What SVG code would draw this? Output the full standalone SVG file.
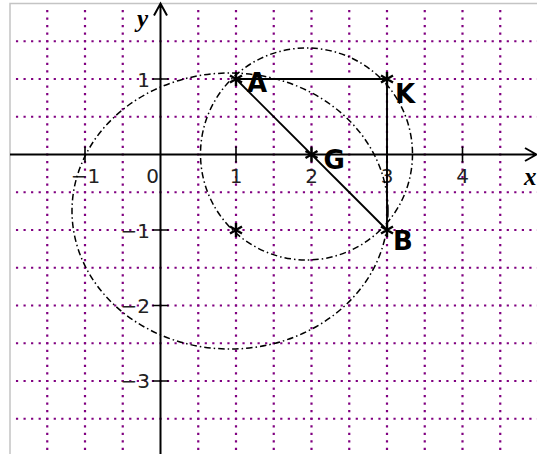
<svg xmlns="http://www.w3.org/2000/svg" width="537" height="454" viewBox="0 0 537 454">
<style>
.grid line{stroke:#800080;stroke-width:2.2;stroke-dasharray:2.2 5.35}
.frame{stroke:#c4c4c4;stroke-width:1.5;fill:none}
.axis{stroke:#000;stroke-width:2;fill:none}
.tick{stroke:#000;stroke-width:1.6}
.num{font-family:"DejaVu Sans",sans-serif;font-size:20px;fill:#222}
.numx{text-anchor:middle}
.numy{text-anchor:end}
.var{font-family:"Liberation Serif",serif;font-style:italic;font-weight:bold;font-size:25px;fill:#000}
.curve{fill:none;stroke:#000;stroke-width:1.5;stroke-dasharray:6.5 3 1.5 3}
.seg{stroke:#000;stroke-width:1.9;fill:none}
.star{stroke:#000;stroke-width:2.4;fill:none}
.lbl{font-family:"DejaVu Sans",sans-serif;font-weight:bold;font-size:26px;fill:#000}
</style>
<defs>
<path id="ast" class="star" d="M0,-7V7M-6,-3.5L6,3.5M-6,3.5L6,-3.5"/>
</defs>
<rect width="537" height="454" fill="#fff"/>
<g class="grid">
<line x1="15.95" y1="41.25" x2="537" y2="41.25"/>
<line x1="15.95" y1="79" x2="537" y2="79"/>
<line x1="15.95" y1="116.75" x2="537" y2="116.75"/>
<line x1="15.95" y1="192.25" x2="537" y2="192.25"/>
<line x1="15.95" y1="230" x2="537" y2="230"/>
<line x1="15.95" y1="267.75" x2="537" y2="267.75"/>
<line x1="15.95" y1="305.5" x2="537" y2="305.5"/>
<line x1="15.95" y1="343.25" x2="537" y2="343.25"/>
<line x1="15.95" y1="381" x2="537" y2="381"/>
<line x1="15.95" y1="418.75" x2="537" y2="418.75"/>
<line x1="47.25" y1="9.95" x2="47.25" y2="454"/>
<line x1="85" y1="9.95" x2="85" y2="454"/>
<line x1="122.75" y1="9.95" x2="122.75" y2="454"/>
<line x1="198.25" y1="9.95" x2="198.25" y2="454"/>
<line x1="236" y1="9.95" x2="236" y2="454"/>
<line x1="273.75" y1="9.95" x2="273.75" y2="454"/>
<line x1="311.5" y1="9.95" x2="311.5" y2="454"/>
<line x1="349.25" y1="9.95" x2="349.25" y2="454"/>
<line x1="387" y1="9.95" x2="387" y2="454"/>
<line x1="424.75" y1="9.95" x2="424.75" y2="454"/>
<line x1="462.5" y1="9.95" x2="462.5" y2="454"/>
<line x1="500.25" y1="9.95" x2="500.25" y2="454"/>
</g>
<path class="frame" d="M10,454V3.5H537"/>
<g id="axes">
<path class="axis" d="M10,154.5H536M525,148L536.5,154.5L525,161"/>
<path class="axis" d="M160.5,454V3.5M154,15.5L160.5,3.5L167,15.5"/>
<path class="tick" d="M85,146.5V162.5M236,146.5V162.5M311.5,146.5V162.5M387,146.5V162.5M462.5,146.5V162.5M152.5,79H168.5M152.5,230H168.5M152.5,305.5H168.5M152.5,381H168.5"/>
<text class="num numx" x="85.5" y="183">−1</text>
<text class="num numx" x="152.5" y="183">0</text>
<text class="num numx" x="236" y="183">1</text>
<text class="num numx" x="311.5" y="183">2</text>
<text class="num numx" x="387" y="183">3</text>
<text class="num numx" x="462.5" y="183">4</text>
<text class="num numy" x="150" y="86.5">1</text>
<text class="num numy" x="150" y="237.5">−1</text>
<text class="num numy" x="150" y="312.5">−2</text>
<text class="num numy" x="150" y="388">−3</text>
<text class="var" x="524" y="185">x</text>
<text class="var" x="137" y="27">y</text>
</g>
<g id="curves">
<circle class="curve" cx="306.5" cy="154" r="106"/>
<ellipse class="curve" cx="230" cy="211" rx="158" ry="138"/>
</g>
<g id="connectors">
<line class="seg" x1="236" y1="79" x2="387" y2="79"/>
<line class="seg" x1="387" y1="79" x2="387" y2="230"/>
<line class="seg" x1="236" y1="79" x2="387" y2="230"/>
</g>
<g id="A"><use href="#ast" x="236" y="79"/><text class="lbl" x="247" y="92">A</text></g>
<g id="K"><use href="#ast" x="387" y="79"/><text class="lbl" x="395" y="103">K</text></g>
<g id="G"><use href="#ast" x="311.5" y="154.5"/><text class="lbl" x="323.5" y="169">G</text></g>
<g id="B"><use href="#ast" x="387" y="230"/><text class="lbl" x="393" y="250">B</text></g>
<g id="P"><use href="#ast" x="236" y="230"/></g>
</svg>
